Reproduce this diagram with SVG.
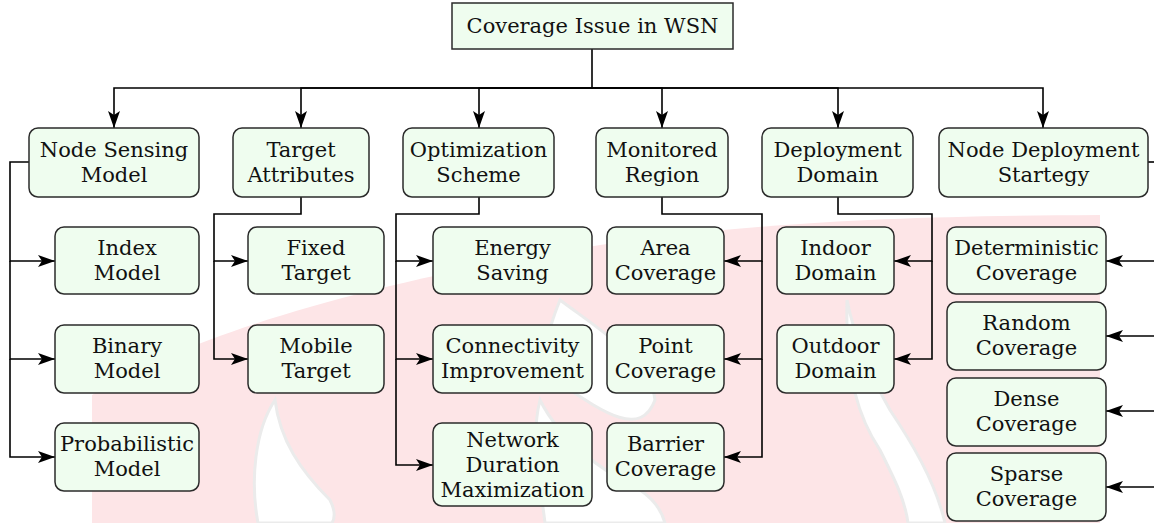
<svg xmlns="http://www.w3.org/2000/svg" width="1154" height="523" viewBox="0 0 1154 523">
<defs>
<style>
.box{fill:#effdef;stroke:#2b2b2b;stroke-width:1.5}
.t{font-family:"DejaVu Serif",serif;font-size:21px;fill:#111;text-anchor:middle}
.c{fill:none;stroke:#000;stroke-width:1.6;marker-end:url(#ah)}
.l{fill:none;stroke:#000;stroke-width:1.6}
.wm{fill:#fde5e7}
.fl{fill:#fff;stroke:#ebebeb;stroke-width:3}
</style>
<marker id="ah" markerUnits="userSpaceOnUse" markerWidth="18" markerHeight="14" refX="17" refY="6" orient="auto">
<path d="M0,0 L17,6 L0,12 L4,6 Z" fill="#000"/>
</marker>
</defs>
<rect width="1154" height="523" fill="#fff"/>
<g id="watermark">
<path class="wm" d="M92 523 L92 395 C200 330 380 280 600 245 C760 222 900 216 1100 215 L1100 523 Z"/>
<path class="fl" d="M258 523 C250 480 255 430 275 400 C280 440 300 470 330 500 C335 510 335 518 332 523 Z"/>
<path class="fl" d="M545 523 C540 480 530 440 540 400 C560 440 600 470 640 490 C655 500 662 512 665 523 Z"/>
<path class="fl" d="M555 380 C600 410 640 440 655 400 C650 360 600 330 560 300 C548 330 540 355 555 380 Z"/>
<path class="fl" d="M847 300 C845 380 860 420 880 450 C895 480 905 500 908 523 L945 523 C935 480 910 440 890 410 C870 375 855 340 847 300 Z"/>
</g>
<g id="connectors">
<path class="c" d="M592 49 V88 H114 V128"/>
<path class="c" d="M592 88 H301 V128"/>
<path class="c" d="M592 88 H479 V128"/>
<path class="c" d="M592 88 H662 V128"/>
<path class="c" d="M592 88 H838 V128"/>
<path class="c" d="M592 88 H1043 V128"/>
<path class="c" d="M29 162 H10 V261 H55"/>
<path class="c" d="M10 261 V359 H55"/>
<path class="c" d="M10 359 V457 H55"/>
<path class="c" d="M301 197 V214 H214 V261 H248"/>
<path class="c" d="M214 261 V359 H248"/>
<path class="c" d="M479 197 V214 H396 V261 H433"/>
<path class="c" d="M396 261 V359 H433"/>
<path class="c" d="M396 359 V465 H433"/>
<path class="c" d="M662 197 V214 H762 V261 H724"/>
<path class="c" d="M762 261 V359 H724"/>
<path class="c" d="M762 359 V457 H724"/>
<path class="c" d="M838 197 V214 H932 V261 H894"/>
<path class="c" d="M932 261 V359 H894"/>
<path class="l" d="M1148 162 H1154"/>
<path class="c" d="M1154 261 H1106"/>
<path class="c" d="M1154 336 H1106"/>
<path class="c" d="M1154 411 H1106"/>
<path class="c" d="M1154 487 H1106"/>
</g>
<g id="root"><rect class="box" x="452" y="3" width="281" height="46"/><text class="t" x="592.5" y="33">Coverage Issue in WSN</text></g>
<g id="n-sensing"><rect class="box" x="29" y="128" width="170" height="69" rx="9"/><text class="t" x="114" y="157">Node Sensing</text><text class="t" x="114" y="182">Model</text></g>
<g id="n-target"><rect class="box" x="233" y="128" width="136" height="69" rx="9"/><text class="t" x="301" y="157">Target</text><text class="t" x="301" y="182">Attributes</text></g>
<g id="n-optim"><rect class="box" x="403" y="128" width="151" height="69" rx="9"/><text class="t" x="478.5" y="157">Optimization</text><text class="t" x="478.5" y="182">Scheme</text></g>
<g id="n-monitored"><rect class="box" x="596" y="128" width="132" height="69" rx="9"/><text class="t" x="662" y="157">Monitored</text><text class="t" x="662" y="182">Region</text></g>
<g id="n-domain"><rect class="box" x="762" y="128" width="151" height="69" rx="9"/><text class="t" x="837.5" y="157">Deployment</text><text class="t" x="837.5" y="182">Domain</text></g>
<g id="n-strategy"><rect class="box" x="939" y="128" width="209" height="69" rx="9"/><text class="t" x="1043.5" y="157">Node Deployment</text><text class="t" x="1043.5" y="182">Startegy</text></g>
<g id="n-index"><rect class="box" x="55" y="227" width="144" height="67" rx="9"/><text class="t" x="127" y="255">Index</text><text class="t" x="127" y="280">Model</text></g>
<g id="n-binary"><rect class="box" x="55" y="325" width="144" height="68" rx="9"/><text class="t" x="127" y="353">Binary</text><text class="t" x="127" y="378">Model</text></g>
<g id="n-prob"><rect class="box" x="55" y="423" width="144" height="68" rx="9"/><text class="t" x="127" y="451">Probabilistic</text><text class="t" x="127" y="476">Model</text></g>
<g id="n-fixed"><rect class="box" x="248" y="227" width="136" height="67" rx="9"/><text class="t" x="316" y="255">Fixed</text><text class="t" x="316" y="280">Target</text></g>
<g id="n-mobile"><rect class="box" x="248" y="325" width="136" height="68" rx="9"/><text class="t" x="316" y="353">Mobile</text><text class="t" x="316" y="378">Target</text></g>
<g id="n-energy"><rect class="box" x="433" y="227" width="159" height="67" rx="9"/><text class="t" x="512.5" y="255">Energy</text><text class="t" x="512.5" y="280">Saving</text></g>
<g id="n-conn"><rect class="box" x="433" y="325" width="159" height="68" rx="9"/><text class="t" x="512.5" y="353">Connectivity</text><text class="t" x="512.5" y="378">Improvement</text></g>
<g id="n-network"><rect class="box" x="433" y="423" width="159" height="83" rx="9"/><text class="t" x="512.5" y="447">Network</text><text class="t" x="512.5" y="472">Duration</text><text class="t" x="512.5" y="497">Maximization</text></g>
<g id="n-area"><rect class="box" x="607" y="227" width="117" height="67" rx="9"/><text class="t" x="665.5" y="255">Area</text><text class="t" x="665.5" y="280">Coverage</text></g>
<g id="n-point"><rect class="box" x="607" y="325" width="117" height="68" rx="9"/><text class="t" x="665.5" y="353">Point</text><text class="t" x="665.5" y="378">Coverage</text></g>
<g id="n-barrier"><rect class="box" x="607" y="423" width="117" height="68" rx="9"/><text class="t" x="665.5" y="451">Barrier</text><text class="t" x="665.5" y="476">Coverage</text></g>
<g id="n-indoor"><rect class="box" x="777" y="227" width="117" height="67" rx="9"/><text class="t" x="835.5" y="255">Indoor</text><text class="t" x="835.5" y="280">Domain</text></g>
<g id="n-outdoor"><rect class="box" x="777" y="325" width="117" height="68" rx="9"/><text class="t" x="835.5" y="353">Outdoor</text><text class="t" x="835.5" y="378">Domain</text></g>
<g id="n-determ"><rect class="box" x="947" y="227" width="159" height="67" rx="9"/><text class="t" x="1026.5" y="255">Deterministic</text><text class="t" x="1026.5" y="280">Coverage</text></g>
<g id="n-random"><rect class="box" x="947" y="302" width="159" height="68" rx="9"/><text class="t" x="1026.5" y="330">Random</text><text class="t" x="1026.5" y="355">Coverage</text></g>
<g id="n-dense"><rect class="box" x="947" y="378" width="159" height="68" rx="9"/><text class="t" x="1026.5" y="406">Dense</text><text class="t" x="1026.5" y="431">Coverage</text></g>
<g id="n-sparse"><rect class="box" x="947" y="453" width="159" height="68" rx="9"/><text class="t" x="1026.5" y="481">Sparse</text><text class="t" x="1026.5" y="506">Coverage</text></g>
</svg>
